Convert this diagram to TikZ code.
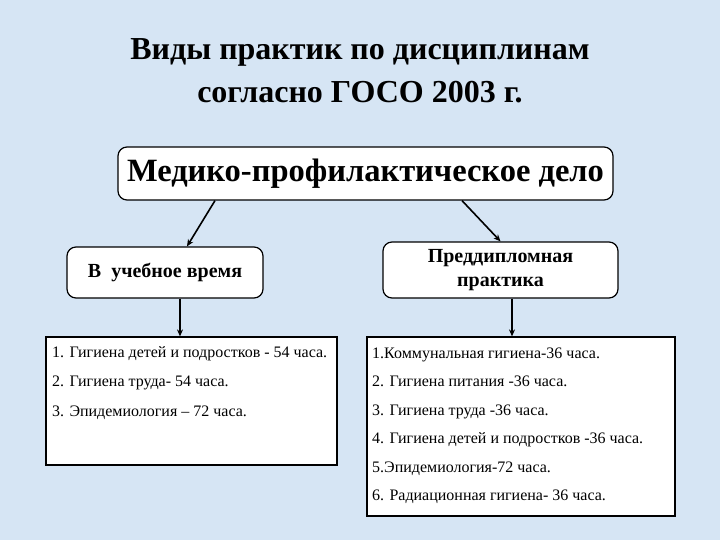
\documentclass[tikz,border=0pt]{standalone}
\usepackage{fontspec}
\setmainfont{Liberation Serif}
\usetikzlibrary{arrows.meta}
\definecolor{bgblue}{RGB}{214,229,244}
\begin{document}
\begin{tikzpicture}[x=1pt,y=-1pt,
  box/.style={draw=black,fill=white,line width=1.2pt,rounded corners=9pt,inner sep=0pt},
  listbox/.style={draw=black,fill=white,line width=1.2pt,inner sep=0pt},
  arr/.style={line width=1.6pt,-{Stealth[length=7pt,width=6pt]}},
  item/.style={anchor=base west,inner sep=0pt,font=\fontsize{16}{18}\selectfont},
  ttl/.style={anchor=base,inner sep=0pt,font=\fontsize{32}{36}\selectfont\bfseries}]
\fill[bgblue] (0,0) rectangle (720,540);
\useasboundingbox (0,0) rectangle (720,540);
\node[ttl] (t1) at (360,60) {Виды практик по дисциплинам};
\node[ttl] (t2) at (360,103) {согласно ГОСО 2003 г.};
\node[box,minimum width=495pt,minimum height=53pt,font=\fontsize{32.5}{35}\selectfont\bfseries] (main) at (365.5,173.5) {Медико-профилактическое дело};
\node[box,minimum width=196pt,minimum height=51pt,font=\fontsize{20}{24}\selectfont\bfseries] (left) at (165,272.5) {В\enspace учебное время};
\node[box,minimum width=235pt,minimum height=56pt,align=center,font=\fontsize{20}{24}\selectfont\bfseries] (right) at (500.5,270) {Преддипломная\\практика};
\node[listbox,minimum width=291pt,minimum height=128pt] (llist) at (191.5,401) {};
\node[listbox,minimum width=308pt,minimum height=179pt] (rlist) at (521,426.5) {};
\node[item] (l1) at (52,357) {1. Гигиена детей и подростков - 54 часа.};
\node[item] (l2) at (52,386.5) {2. Гигиена труда- 54 часа.};
\node[item] (l3) at (52,416) {3. Эпидемиология – 72 часа.};
\node[item] (r1) at (372,358) {1.Коммунальная гигиена-36 часа.};
\node[item] (r2) at (372,386.5) {2. Гигиена питания -36 часа.};
\node[item] (r3) at (372,415) {3. Гигиена труда -36 часа.};
\node[item] (r4) at (372,443.5) {4. Гигиена детей и подростков -36 часа.};
\node[item] (r5) at (372,472) {5.Эпидемиология-72 часа.};
\node[item] (r6) at (372,500.5) {6. Радиационная гигиена- 36 часа.};
\draw[arr] ([xshift=-150.5pt]main.south) -- ([xshift=22pt]left.north);
\draw[arr] ([xshift=96.5pt]main.south) -- (right.north);
\draw[arr] ([xshift=15pt]left.south) -- ([xshift=-11.5pt]llist.north);
\draw[arr] ([xshift=11.5pt]right.south) -- ([xshift=-9pt]rlist.north);
\end{tikzpicture}
\end{document}
